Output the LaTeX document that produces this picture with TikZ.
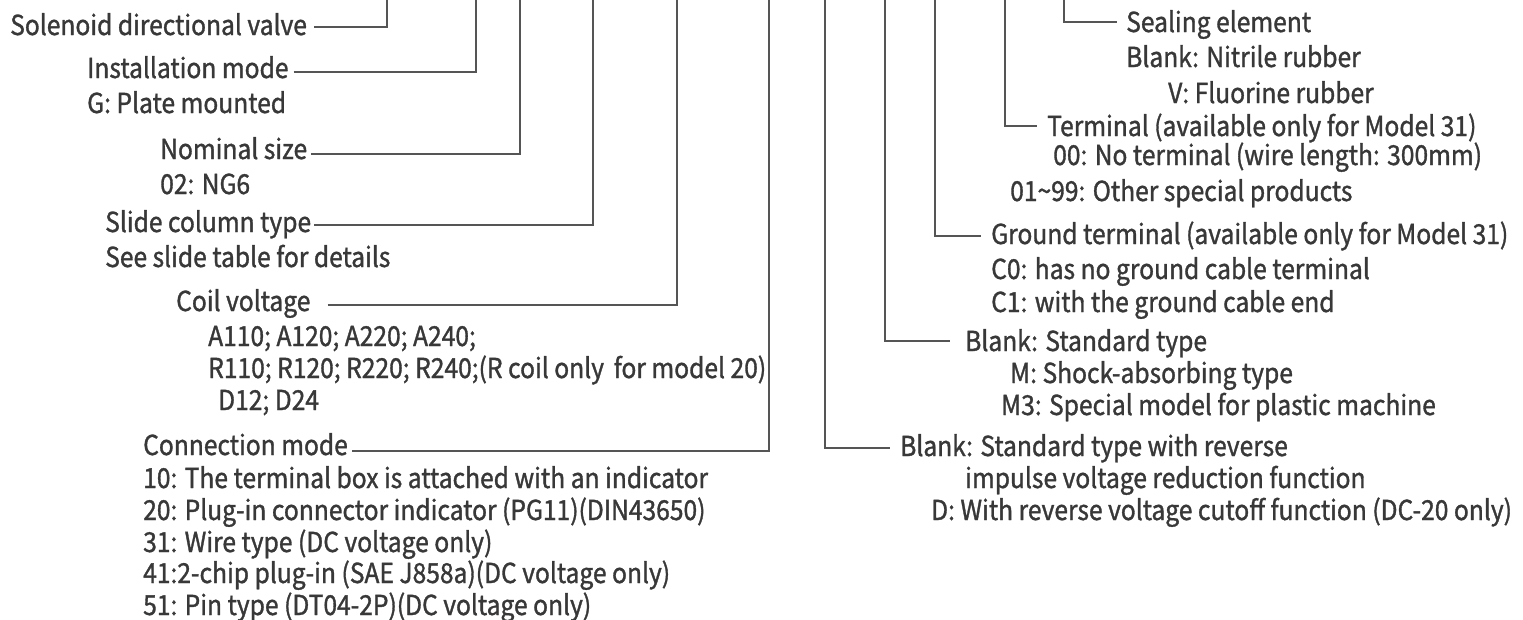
\documentclass[tikz,border=0pt]{standalone}
\usepackage{fontspec}
\setmainfont{Noto Sans CJK SC}[FakeStretch=0.895,FakeBold=1.2]
\definecolor{txt}{HTML}{383838}
\definecolor{ln}{HTML}{555555}
\begin{document}
\begin{tikzpicture}[x=1pt,y=-1pt,
  lbl/.style={anchor=west, inner sep=0pt, text height=18pt, text depth=0pt, text=txt,
    font=\fontsize{27.5}{30}\selectfont},
  conn/.style={draw=ln, line width=1.7pt}]
\useasboundingbox (0,0) rectangle (1523,619);
% top ends of the vertical leaders
\coordinate (t1) at (387,0);
\coordinate (t2) at (476,0);
\coordinate (t3) at (520,0);
\coordinate (t4) at (593,0);
\coordinate (t5) at (677,0);
\coordinate (t6) at (769,0);
\coordinate (t7) at (825,0);
\coordinate (t8) at (885,0);
\coordinate (t9) at (935,0);
\coordinate (t10) at (1005,0);
\coordinate (t11) at (1064,0);
% left labels
\node[lbl] (sol) at (10,26) {Solenoid directional valve};
\node[lbl] (inst) at (87,69) {Installation mode};
\node[lbl] (instg) at (87,104) {G: Plate mounted};
\node[lbl] (nom) at (160,150) {Nominal size};
\node[lbl] (nom2) at (160,185) {02: NG6};
\node[lbl] (slide) at (105,223) {Slide column type};
\node[lbl] (slide2) at (105,258) {See slide table for details};
\node[lbl] (coil) at (176,302) {Coil voltage};
\node[lbl] (coilA) at (208,337) {A110; A120; A220; A240;};
\node[lbl] (coilR) at (208,369) {\resizebox{558pt}{\height}{R110; R120; R220; R240;(R coil only\hspace{0.35em}for model 20)}};
\node[lbl] (coilD) at (218,401) {D12; D24};
\node[lbl] (con) at (143,446) {Connection mode};
\node[lbl] (con10) at (143,479) {10: The terminal box is attached with an indicator};
\node[lbl] (con20) at (143,511) {20: Plug-in connector indicator (PG11)(DIN43650)};
\node[lbl] (con31) at (143,543) {31: Wire type (DC voltage only)};
\node[lbl] (con41) at (143,574) {41:2-chip plug-in (SAE J858a)(DC voltage only)};
\node[lbl] (con51) at (143,606) {51: Pin type (DT04-2P)(DC voltage only)};
% right labels
\node[lbl] (seal) at (1126,23) {Sealing element};
\node[lbl] (seal1) at (1126,58) {Blank: Nitrile rubber};
\node[lbl] (seal2) at (1168,94) {V: Fluorine rubber};
\node[lbl] (term) at (1047,127) {Terminal (available only for Model 31)};
\node[lbl] (term1) at (1053,156) {00: No terminal (wire length: 300mm)};
\node[lbl] (term2) at (1010,192) {01\textasciitilde 99: Other special products};
\node[lbl] (gnd) at (991,235) {Ground terminal (available only for Model 31)};
\node[lbl] (gnd1) at (991,270) {C0: has no ground cable terminal};
\node[lbl] (gnd2) at (991,303) {C1: with the ground cable end};
\node[lbl] (bstd) at (965,342) {Blank: Standard type};
\node[lbl] (bstd1) at (1010,374) {M: Shock-absorbing type};
\node[lbl] (bstd2) at (1001,406) {M3: Special model for plastic machine};
\node[lbl] (brev) at (900,447) {Blank: Standard type with reverse};
\node[lbl] (brev1) at (965,479) {impulse voltage reduction function};
\node[lbl] (brev2) at (931,511) {D: With reverse voltage cutoff function (DC-20 only)};
% connectors
\draw[conn] ([xshift=7pt,yshift=-1pt]sol.east) -| (t1);
\draw[conn] ([xshift=5pt,yshift=-3pt]inst.east) -| (t2);
\draw[conn] ([xshift=4pt,yshift=-4pt]nom.east) -| (t3);
\draw[conn] ([xshift=3pt,yshift=-2pt]slide.east) -| (t4);
\draw[conn] ([xshift=17pt,yshift=-3pt]coil.east) -| (t5);
\draw[conn] ([xshift=4pt,yshift=-5pt]con.east) -| (t6);
\draw[conn] (t7) |- ([xshift=-10pt,yshift=-1pt]brev.west);
\draw[conn] (t8) |- ([xshift=-15pt,yshift=1pt]bstd.west);
\draw[conn] (t9) |- ([xshift=-10pt,yshift=-1pt]gnd.west);
\draw[conn] (t10) |- ([xshift=-10pt,yshift=1pt]term.west);
\draw[conn] (t11) |- ([xshift=-9pt,yshift=1pt]seal.west);
\end{tikzpicture}
\end{document}
